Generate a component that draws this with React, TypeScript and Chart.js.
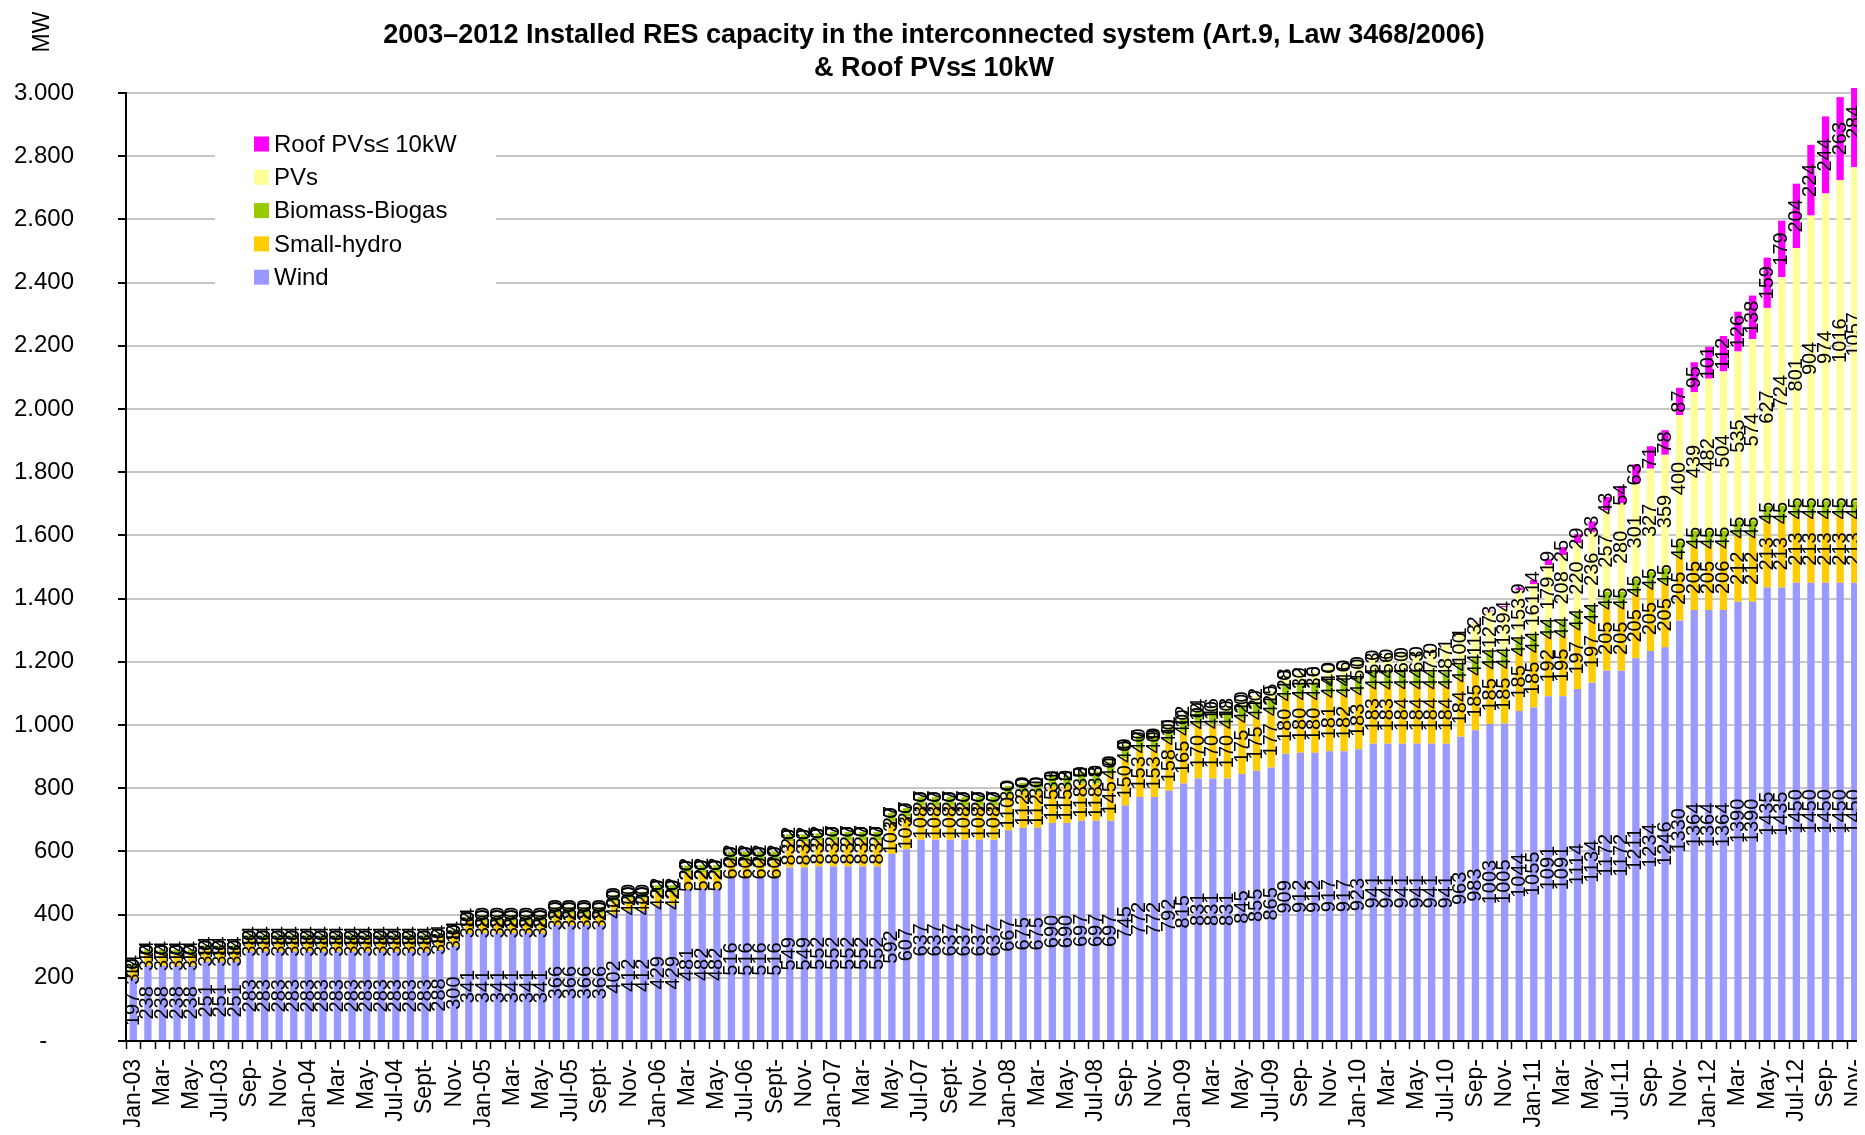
import React, { useEffect, useRef } from 'react';
import { Chart, registerables } from 'chart.js';

Chart.register(...registerables);

const FONT = '"Liberation Sans", Arial, sans-serif';

const yearCodes = ['03', '04', '05', '06', '07', '08', '09', '10', '11', '12'];
const monthNames = ['Jan', 'Feb', 'Mar', 'Apr', 'May', 'Jun', 'Jul', 'Aug', 'Sep', 'Oct', 'Nov', 'Dec'];
const categories: string[] = [];
yearCodes.forEach((yc) => {
  monthNames.forEach((m, mi) => {
    if (yc === '12' && mi > 10) return;
    categories.push(`${m}-${yc}`);
  });
});

const tickLabels = [
  'Jan-03', 'Mar-', 'May-', 'Jul-03', 'Sep-', 'Nov-',
  'Jan-04', 'Mar-', 'May-', 'Jul-04', 'Sept-', 'Nov-',
  'Jan-05', 'Mar-', 'May-', 'Jul-05', 'Sept-', 'Nov-',
  'Jan-06', 'Mar-', 'May-', 'Jul-06', 'Sept-', 'Nov-',
  'Jan-07', 'Mar-', 'May-', 'Jul-07', 'Sept-', 'Nov-',
  'Jan-08', 'Mar-', 'May-', 'Jul-08', 'Sep-', 'Nov-',
  'Jan-09', 'Mar-', 'May-', 'Jul-09', 'Sep-', 'Nov-',
  'Jan-10', 'Mar-', 'May-', 'Jul-10', 'Sep-', 'Nov-',
  'Jan-11', 'Mar-', 'May-', 'Jul-11', 'Sep-', 'Nov-',
  'Jan-12', 'Mar-', 'May-', 'Jul-12', 'Sep-', 'Nov-',
];

const wind = [
  197, 238, 238, 238, 238, 251, 251, 251, 283, 283, 283, 283,
  283, 283, 283, 283, 283, 283, 283, 283, 283, 288, 300, 341,
  341, 341, 341, 341, 341, 366, 366, 366, 366, 402, 412, 412,
  429, 429, 481, 482, 482, 516, 516, 516, 516, 549, 549, 552,
  552, 552, 552, 552, 592, 607, 637, 637, 637, 637, 637, 637,
  667, 675, 675, 690, 690, 697, 697, 697, 745, 772, 772, 792,
  815, 831, 831, 831, 845, 855, 865, 909, 912, 912, 917, 917,
  923, 941, 941, 941, 941, 941, 941, 963, 983, 1003, 1005, 1044,
  1055, 1091, 1091, 1114, 1134, 1172, 1172, 1211, 1234, 1246, 1330, 1364,
  1364, 1364, 1390, 1390, 1435, 1435, 1450, 1450, 1450, 1450, 1450,
];

const smallHydro = [
  33, 37, 37, 37, 37, 38, 38, 38, 38, 38, 38, 38,
  38, 38, 38, 38, 38, 38, 38, 38, 38, 38, 38, 38,
  38, 38, 38, 38, 38, 38, 38, 38, 38, 40, 40, 40,
  42, 42, 52, 52, 52, 60, 60, 60, 60, 83, 83, 83,
  83, 83, 83, 83, 103, 103, 108, 108, 108, 108, 108, 108,
  110, 112, 112, 115, 115, 118, 118, 145, 150, 153, 153, 158,
  165, 170, 170, 170, 175, 175, 177, 180, 180, 180, 181, 182,
  183, 183, 183, 184, 184, 184, 184, 184, 185, 185, 185, 185,
  185, 192, 195, 197, 197, 205, 205, 205, 205, 205, 205, 205,
  205, 206, 212, 212, 213, 213, 213, 213, 213, 213, 213,
];

const biomass = [
  14, 14, 14, 14, 14, 14, 14, 14, 14, 14, 14, 14,
  14, 14, 14, 14, 14, 14, 14, 14, 14, 14, 14, 14,
  20, 20, 20, 20, 20, 20, 20, 20, 20, 20, 20, 20,
  22, 22, 22, 22, 22, 22, 22, 22, 22, 22, 22, 22,
  27, 27, 27, 27, 27, 27, 27, 27, 27, 27, 27, 27,
  30, 30, 30, 33, 33, 35, 38, 40, 40, 40, 40, 40,
  40, 40, 41, 41, 41, 41, 41, 41, 41, 41, 44, 44,
  44, 44, 44, 44, 44, 44, 44, 44, 44, 44, 44, 44,
  44, 44, 44, 44, 44, 45, 45, 45, 45, 45, 45, 45,
  45, 45, 45, 45, 45, 45, 45, 45, 45, 45, 45,
];

const pvs = [
  0, 0, 0, 0, 0, 0, 0, 0, 0, 0, 0, 0,
  0, 0, 0, 0, 0, 0, 0, 0, 0, 0, 0, 0,
  0, 0, 0, 0, 0, 0, 0, 0, 0, 0, 0, 0,
  0, 0, 0, 0, 0, 0, 0, 0, 0, 0, 0, 0,
  0, 0, 0, 0, 0, 0, 0, 0, 0, 0, 0, 0,
  0, 0, 1, 1, 2, 2, 3, 4, 5, 7, 9, 11,
  12, 14, 16, 18, 20, 22, 25, 28, 32, 36, 40, 46,
  50, 53, 56, 60, 63, 73, 87, 100, 113, 127, 139, 153,
  161, 179, 208, 220, 236, 257, 280, 301, 327, 359, 400, 439,
  482, 504, 535, 574, 627, 724, 801, 904, 974, 1016, 1057,
];

const roofPVs = [
  0, 0, 0, 0, 0, 0, 0, 0, 0, 0, 0, 0,
  0, 0, 0, 0, 0, 0, 0, 0, 0, 0, 0, 0,
  0, 0, 0, 0, 0, 0, 0, 0, 0, 0, 0, 0,
  0, 0, 0, 0, 0, 0, 0, 0, 0, 0, 0, 0,
  0, 0, 0, 0, 0, 0, 0, 0, 0, 0, 0, 0,
  0, 0, 0, 0, 0, 0, 0, 0, 0, 0, 0, 0,
  0, 0, 0, 0, 0, 0, 0, 0, 0, 0, 0, 0,
  0, 0, 0, 0, 0, 0, 1, 1, 2, 3, 4, 9,
  14, 19, 25, 29, 33, 43, 54, 63, 71, 78, 87, 95,
  101, 112, 126, 138, 159, 179, 204, 224, 244, 263, 284,
];

const seriesNames = ['Wind', 'Small-hydro', 'Biomass-Biogas', 'PVs', 'Roof PVs\u2264 10kW'];
const seriesColors = ['#9999FF', '#FFCC00', '#99CC00', '#FFFF99', '#FF00FF'];
const seriesData = [wind, smallHydro, biomass, pvs, roofPVs];

const titleLines = [
  '2003\u20132012 Installed RES capacity in the interconnected system (Art.9, Law 3468/2006)',
  '& Roof PVs\u2264 10kW',
];

const segmentLabels = {
  id: 'segmentLabels',
  afterDatasetsDraw(chart: any) {
    const ctx = chart.ctx;
    ctx.save();
    ctx.font = `20px ${FONT}`;
    ctx.fillStyle = '#000';
    ctx.textAlign = 'center';
    ctx.textBaseline = 'middle';
    chart.data.datasets.forEach((ds: any, di: number) => {
      const meta = chart.getDatasetMeta(di);
      meta.data.forEach((el: any, i: number) => {
        const v = ds.data[i];
        const p = el.getProps(['x', 'y', 'base'], true);
        const cy = (p.y + p.base) / 2;
        ctx.save();
        ctx.translate(p.x, cy);
        ctx.rotate(-Math.PI / 2);
        ctx.fillText(String(v), 0, 0);
        ctx.restore();
      });
    });
    ctx.restore();
  },
};

const decorations = {
  id: 'decorations',
  afterDraw(chart: any) {
    const ctx = chart.ctx;
    ctx.save();
    // title
    ctx.fillStyle = '#000';
    ctx.font = `bold 27px ${FONT}`;
    ctx.textAlign = 'center';
    ctx.textBaseline = 'middle';
    ctx.fillText(titleLines[0], 926, 28);
    ctx.fillText(titleLines[1], 926, 61);
    // unit
    ctx.save();
    ctx.translate(35, 24);
    ctx.rotate(-Math.PI / 2);
    ctx.font = `23px ${FONT}`;
    ctx.fillText('MW', 0, 0);
    ctx.restore();
    // legend
    ctx.fillStyle = '#fff';
    ctx.fillRect(207, 97, 281, 200);
    ctx.font = `24px ${FONT}`;
    ctx.textAlign = 'left';
    const order = [4, 3, 2, 1, 0];
    order.forEach((si, k) => {
      const cy = 136 + 33.3 * k;
      ctx.fillStyle = seriesColors[si];
      ctx.fillRect(246, cy - 7.5, 15, 15);
      ctx.fillStyle = '#000';
      ctx.fillText(seriesNames[si], 266, cy + 1);
    });
    ctx.restore();
  },
};

function fmtY(v: number) {
  if (v === 0) return '-    ';
  if (v >= 1000) return `${Math.floor(v / 1000)}.${String(v % 1000).padStart(3, '0')}`;
  return String(v);
}

export default function App() {
  const ref = useRef<HTMLCanvasElement>(null);
  useEffect(() => {
    const chart = new Chart(ref.current as HTMLCanvasElement, {
      type: 'bar',
      data: {
        labels: categories,
        datasets: seriesData.map((d, i) => ({
          label: seriesNames[i],
          data: d,
          backgroundColor: seriesColors[i],
          borderWidth: 0,
          barPercentage: 0.5,
          categoryPercentage: 1,
          clip: { left: 0, top: 5, right: 0, bottom: 0 },
        })),
      },
      options: {
        responsive: false,
        animation: false,
        layout: { padding: { top: 85, right: 3, left: 0, bottom: 0 } },
        plugins: {
          legend: { display: false },
          title: { display: false },
          tooltip: { enabled: false },
        },
        scales: {
          x: {
            stacked: true,
            offset: true,
            grid: {
              drawOnChartArea: false,
              offset: true,
              tickColor: '#000',
              tickLength: 8,
              tickWidth: 1.5,
            },
            border: { color: '#000', width: 2 },
            ticks: {
              autoSkip: false,
              maxRotation: 90,
              minRotation: 90,
              padding: 10,
              color: '#000',
              font: { family: FONT, size: 23 },
              callback: (_v: any, i: number) => (i % 2 === 0 ? tickLabels[i / 2] : ''),
            },
            afterFit(s: any) {
              s.height = 86;
              s.paddingLeft = 0;
              s.paddingRight = 0;
            },
          },
          y: {
            stacked: true,
            min: 0,
            max: 3000,
            grid: {
              color: '#c8c8c8',
              lineWidth: 2,
              tickColor: '#000',
              tickLength: 8,
              tickWidth: 2,
            },
            border: { color: '#000', width: 2 },
            ticks: {
              stepSize: 200,
              padding: 44,
              color: '#000',
              font: { family: FONT, size: 24 },
              callback: (v: any) => fmtY(Number(v)),
            },
            afterFit(s: any) {
              s.width = 118;
              s.paddingTop = 0;
              s.paddingBottom = 0;
            },
          },
        },
      },
      plugins: [segmentLabels, decorations],
    });
    return () => chart.destroy();
  }, []);
  return (
    <canvas
      ref={ref}
      width={1857}
      height={1119}
      style={{ display: 'block', width: 1857, height: 1119 }}
    />
  );
}
